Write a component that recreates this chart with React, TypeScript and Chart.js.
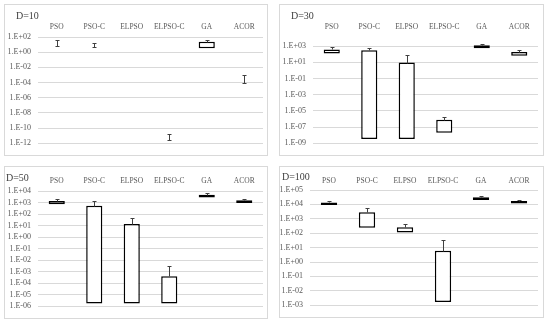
import React, { useEffect, useRef } from "react";
import { Chart, registerables } from "chart.js";

Chart.register(...registerables);

const categories = ["PSO", "PSO-C", "ELPSO", "ELPSO-C", "GA", "ACOR"];

// D=10
const d10BoxLow = [null, null, null, null, 3.4, null];
const d10BoxHigh = [null, null, null, null, 23, null];
const d10ErrLow = [6.6, 4.2, null, 2.3e-12, null, 1.0e-4];
const d10ErrHigh = [37, 16, null, 1.5e-11, 46, 9.3e-4];
const d10Ticks = [1e-12, 1e-10, 1e-8, 1e-6, 1e-4, 1e-2, 1, 1e2];

// D=30
const d30BoxLow = [126, 3.2e-9, 3.2e-9, 1.9e-8, 575, 65];
const d30BoxHigh = [407, 309, 9.5, 7.9e-7, 1320, 195];
const d30ErrLow = [null, null, null, null, null, null];
const d30ErrHigh = [760, 630, 79, 2.0e-6, 2090, 309];
const d30Ticks = [1e-9, 1e-7, 1e-5, 1e-3, 1e-1, 1e1, 1e3];

// D=50
const d50BoxLow = [724, 1.7e-6, 1.7e-6, 1.7e-6, 2750, 890];
const d50BoxHigh = [1380, 537, 14, 4.0e-4, 4680, 1580];
const d50ErrLow = [null, null, null, null, null, null];
const d50ErrHigh = [1900, 1480, 45, 3.2e-3, 6300, 2040];
const d50Ticks = [1e-6, 1e-5, 1e-4, 1e-3, 1e-2, 1e-1, 1, 1e1, 1e2, 1e3, 1e4];

// D=100
const d100BoxLow = [9100, 240, 110, 1.7e-3, 20000, 11700];
const d100BoxHigh = [13800, 2880, 263, 6.0, 31600, 17000];
const d100ErrLow = [null, null, null, null, null, null];
const d100ErrHigh = [17800, 6000, 470, 35, 37000, 20000];
const d100Ticks = [1e-3, 1e-2, 1e-1, 1, 1e1, 1e2, 1e3, 1e4, 1e5];

const FONT = "'Liberation Serif', 'Times New Roman', serif";

type PanelCfg = {
  title: string;
  boxLow: (number | null)[];
  boxHigh: (number | null)[];
  errLow: (number | null)[];
  errHigh: (number | null)[];
  ticks: number[];
  yMax: number;
  left: number;
  top: number;
  w: number;
  h: number;
  yW: number;
  xH: number;
  padR: number;
  padB: number;
  labelPad: number;
  titleX: number;
  titleY: number;
};

const panels: PanelCfg[] = [
  {
    title: "D=10", boxLow: d10BoxLow, boxHigh: d10BoxHigh, errLow: d10ErrLow, errHigh: d10ErrHigh,
    ticks: d10Ticks, yMax: 1e2,
    left: 4, top: 4, w: 264, h: 152, yW: 33, xH: 32, padR: 4, padB: 7, labelPad: 5, titleX: 11, titleY: 5,
  },
  {
    title: "D=30", boxLow: d30BoxLow, boxHigh: d30BoxHigh, errLow: d30ErrLow, errHigh: d30ErrHigh,
    ticks: d30Ticks, yMax: Math.pow(10, 3.4),
    left: 279, top: 4, w: 265, h: 152, yW: 33, xH: 38, padR: 5, padB: 7, labelPad: 11, titleX: 11, titleY: 5,
  },
  {
    title: "D=50", boxLow: d50BoxLow, boxHigh: d50BoxHigh, errLow: d50ErrLow, errHigh: d50ErrHigh,
    ticks: d50Ticks, yMax: 1e4,
    left: 4, top: 166, w: 264, h: 153, yW: 33, xH: 24, padR: 4, padB: 7, labelPad: 5, titleX: 1, titleY: 5,
  },
  {
    title: "D=100", boxLow: d100BoxLow, boxHigh: d100BoxHigh, errLow: d100ErrLow, errHigh: d100ErrHigh,
    ticks: d100Ticks, yMax: 1e5,
    left: 279, top: 166, w: 265, h: 152, yW: 30, xH: 23, padR: 5, padB: 9, labelPad: 4.5, titleX: 2, titleY: 4,
  },
];

function fmtTick(v: number): string {
  const e = Math.round(Math.log10(v));
  const sign = e < 0 ? "-" : "+";
  return "1.E" + sign + String(Math.abs(e)).padStart(2, "0");
}

function Panel({ cfg }: { cfg: PanelCfg }) {
  const ref = useRef<HTMLCanvasElement>(null);
  useEffect(() => {
    if (!ref.current) return;
    const data = categories.map((_, i) =>
      cfg.boxLow[i] != null && cfg.boxHigh[i] != null ? [cfg.boxLow[i], cfg.boxHigh[i]] : null
    );
    const errPlugin = {
      id: "errbars",
      afterDatasetsDraw(chart: any) {
        const { ctx } = chart;
        const x = chart.scales.x;
        const y = chart.scales.y;
        ctx.save();
        ctx.strokeStyle = "#404040";
        ctx.lineWidth = 1;
        for (let i = 0; i < categories.length; i++) {
          const hi = cfg.errHigh[i];
          if (hi == null) continue;
          const loVal = cfg.errLow[i] != null ? cfg.errLow[i] : cfg.boxHigh[i];
          if (loVal == null) continue;
          const px = Math.round(x.getPixelForValue(i)) + 0.5;
          const y1 = Math.round(y.getPixelForValue(hi)) + 0.5;
          const y2 = Math.round(y.getPixelForValue(loVal)) + 0.5;
          ctx.beginPath();
          ctx.moveTo(px, y1);
          ctx.lineTo(px, y2);
          ctx.moveTo(px - 2, y1);
          ctx.lineTo(px + 2, y1);
          if (cfg.errLow[i] != null) {
            ctx.moveTo(px - 2, y2);
            ctx.lineTo(px + 2, y2);
          }
          ctx.stroke();
        }
        ctx.restore();
      },
    };
    const chart = new Chart(ref.current, {
      type: "bar",
      data: {
        labels: categories,
        datasets: [
          {
            data: data as any,
            backgroundColor: "#ffffff",
            borderColor: "#000000",
            borderWidth: 1.5,
            borderSkipped: false,
            categoryPercentage: 1,
            barPercentage: 0.43,
          },
        ],
      },
      options: {
        animation: false,
        responsive: false,
        events: [],
        layout: { padding: { left: 0, top: 0, right: cfg.padR, bottom: cfg.padB } },
        plugins: { legend: { display: false }, tooltip: { enabled: false }, title: { display: false } },
        scales: {
          x: {
            type: "category",
            position: "top",
            grid: { display: false, drawTicks: false },
            border: { display: false },
            ticks: {
              color: "#595959",
              font: { family: FONT, size: 7.5 },
              padding: cfg.labelPad,
              maxRotation: 0,
              autoSkip: false,
            },
            afterFit(scale: any) {
              scale.height = cfg.xH;
            },
          },
          y: {
            type: "logarithmic",
            min: cfg.ticks[0],
            max: cfg.yMax,
            grid: { color: "#d9d9d9", lineWidth: 1, drawTicks: false },
            border: { display: false },
            ticks: {
              color: "#595959",
              font: { family: FONT, size: 8 },
              padding: 7,
              autoSkip: false,
              callback: (v: any) => fmtTick(Number(v)),
            },
            afterBuildTicks(scale: any) {
              scale.ticks = cfg.ticks.map((v) => ({ value: v, major: false }));
            },
            afterFit(scale: any) {
              scale.width = cfg.yW;
            },
          },
        },
      } as any,
      plugins: [errPlugin],
    });
    return () => chart.destroy();
  }, []);
  return (
    <div
      style={{
        position: "absolute",
        left: cfg.left,
        top: cfg.top,
        width: cfg.w,
        height: cfg.h,
        border: "1px solid #d9d9d9",
        boxSizing: "border-box",
        background: "#ffffff",
      }}
    >
      <canvas
        ref={ref}
        width={cfg.w - 2}
        height={cfg.h - 2}
        style={{ position: "absolute", left: 0, top: 0, width: cfg.w - 2, height: cfg.h - 2 }}
      />
      <div
        style={{
          position: "absolute",
          left: cfg.titleX,
          top: cfg.titleY,
          fontFamily: FONT,
          fontSize: 10,
          lineHeight: "12px",
          color: "#404040",
          whiteSpace: "nowrap",
        }}
      >
        {cfg.title}
      </div>
    </div>
  );
}

export default function App() {
  return (
    <div
      style={{
        position: "absolute",
        left: 0,
        top: 0,
        width: 550,
        height: 324,
        background: "#ffffff",
        overflow: "hidden",
      }}
    >
      {panels.map((p) => (
        <Panel key={p.title} cfg={p} />
      ))}
    </div>
  );
}
